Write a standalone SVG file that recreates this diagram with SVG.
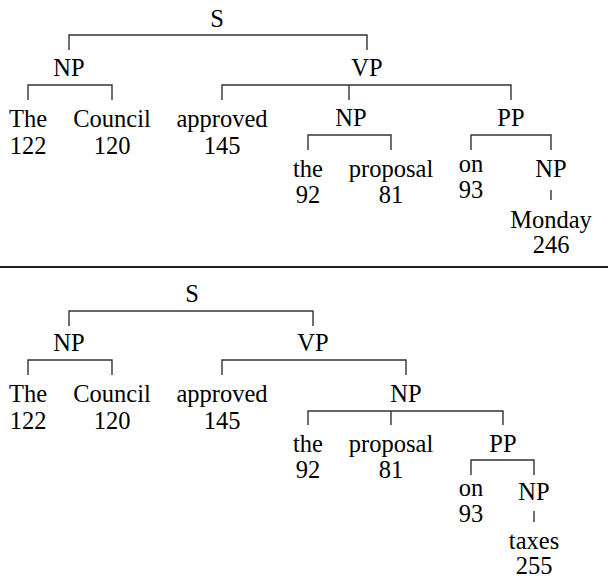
<svg xmlns="http://www.w3.org/2000/svg" width="608" height="578" viewBox="0 0 608 578">
<style>
text{font-family:"Liberation Serif","Times New Roman",serif;font-size:24.5px;fill:#000;text-anchor:middle}
.c path{fill:none;stroke:#333;stroke-width:1.4}
</style>
<rect width="608" height="578" fill="#fff"/>
<g class="c" id="connectors">
<path d="M69,50V35H367V50"/>
<path d="M28,100V85H112V100"/>
<path d="M222,100V85H511V100M349,85V100"/>
<path d="M308,150V135H391V150"/>
<path d="M471,150V135H551V150"/>
<path d="M551,190V200"/>
<path d="M69,326V311H313V326"/>
<path d="M28,375V360H112V375"/>
<path d="M222,375V360H406V375"/>
<path d="M308,425V411H503V425M391,411V425"/>
<path d="M471,475V460H534V475"/>
<path d="M534,511V522"/>
</g>
<line id="separator" x1="0" y1="267" x2="608" y2="267" stroke="#222" stroke-width="2"/>
<g font-family="Liberation Serif, serif">
<g id="t1-S"><text x="217" y="27">S</text></g>
<g id="t1-NP1"><text x="69" y="76">NP</text></g>
<g id="t1-The"><text x="28" y="127">The</text><text x="28" y="154">122</text></g>
<g id="t1-Council"><text x="112" y="127">Council</text><text x="112" y="154">120</text></g>
<g id="t1-VP"><text x="367" y="76">VP</text></g>
<g id="t1-approved"><text x="222" y="127">approved</text><text x="222" y="154">145</text></g>
<g id="t1-NP2"><text x="351" y="126">NP</text></g>
<g id="t1-the"><text x="308" y="177">the</text><text x="308" y="203">92</text></g>
<g id="t1-proposal"><text x="391" y="177">proposal</text><text x="391" y="203">81</text></g>
<g id="t1-PP"><text x="511" y="126">PP</text></g>
<g id="t1-on"><text x="471" y="172">on</text><text x="471" y="198">93</text></g>
<g id="t1-NP3"><text x="551" y="177">NP</text></g>
<g id="t1-Monday"><text x="551" y="228">Monday</text><text x="551" y="253">246</text></g>
<g id="t2-S"><text x="192" y="302">S</text></g>
<g id="t2-NP1"><text x="69" y="351">NP</text></g>
<g id="t2-The"><text x="28" y="402">The</text><text x="28" y="429">122</text></g>
<g id="t2-Council"><text x="112" y="402">Council</text><text x="112" y="429">120</text></g>
<g id="t2-VP"><text x="313" y="351">VP</text></g>
<g id="t2-approved"><text x="222" y="402">approved</text><text x="222" y="429">145</text></g>
<g id="t2-NP2"><text x="406" y="402">NP</text></g>
<g id="t2-the"><text x="308" y="452">the</text><text x="308" y="478">92</text></g>
<g id="t2-proposal"><text x="391" y="452">proposal</text><text x="391" y="478">81</text></g>
<g id="t2-PP"><text x="503" y="452">PP</text></g>
<g id="t2-on"><text x="471" y="496">on</text><text x="471" y="522">93</text></g>
<g id="t2-NP3"><text x="534" y="500">NP</text></g>
<g id="t2-taxes"><text x="534" y="549">taxes</text><text x="534" y="574">255</text></g>
</g>
</svg>
